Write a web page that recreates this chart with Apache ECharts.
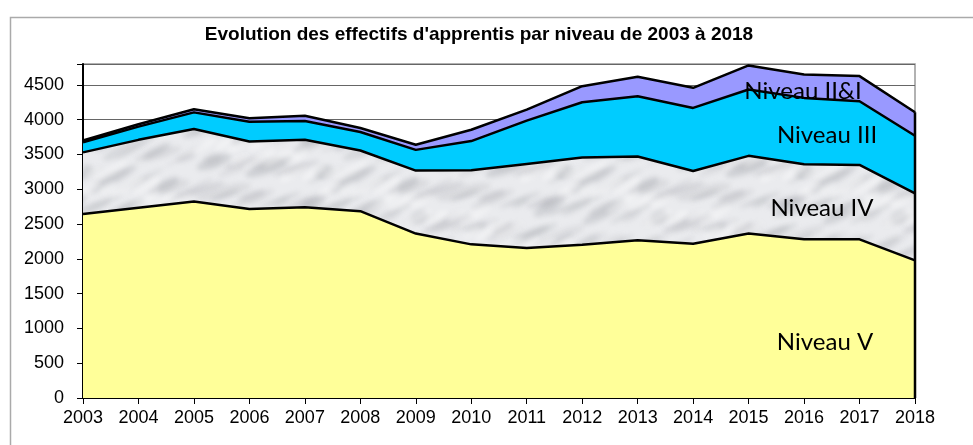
<!DOCTYPE html>
<html>
<head>
<meta charset="utf-8">
<script src="https://cdn.jsdelivr.net/npm/echarts@6/dist/echarts.min.js"></script>
<style>html,body{margin:0;padding:0;background:#fff;}#c{width:973px;height:445px;}</style>
</head>
<body>
<div id="c"></div>
<script>
const years = ['2003','2004','2005','2006','2007','2008','2009','2010','2011','2012','2013','2014','2015','2016','2017','2018'];
const niveauV   = [2645,2735,2825,2715,2740,2685,2363,2208,2155,2204,2266,2218,2363,2280,2280,1977];
const niveauIV  = [885,975,1040,970,970,872,905,1065,1209,1251,1204,1045,1117,1080,1070,963];
const niveauIII = [145,190,240,285,270,265,298,419,622,795,867,906,953,953,915,829];
const niveauII  = [25,35,45,50,75,58,73,163,159,231,280,289,347,337,361,337];
const seriesNames = ['Niveau V','Niveau IV','Niveau III','Niveau II&I'];
const yTicks = [0,500,1000,1500,2000,2500,3000,3500,4000,4500];

function marble(){
  const W = 240, H = 160;
  const big = document.createElement('canvas');
  big.width = W * 3; big.height = H * 3;
  const g = big.getContext('2d');
  g.fillStyle = '#eaebee';
  g.fillRect(0, 0, W * 3, H * 3);
  g.filter = 'blur(2.5px)';
  function blob(x, y, w, h, rot, col){
    for (let ox = 0; ox < 3; ox++) for (let oy = 0; oy < 3; oy++) {
      g.save();
      g.translate(x + ox * W, y + oy * H);
      g.rotate(rot);
      g.fillStyle = col;
      g.beginPath();
      g.ellipse(0, 0, w, h, 0, 0, Math.PI * 2);
      g.fill();
      g.restore();
    }
  }
  for (let i = 0; i < 90; i++) {
    const a = 0.10 + ((i * 11) % 7) * 0.03;
    blob((i * 67) % W, (i * 41) % H, 8 + (i * 13) % 22, 2 + (i * 7) % 5,
         -0.55 + ((i * 5) % 7) * 0.05, 'rgba(140,142,150,' + a.toFixed(2) + ')');
  }
  for (let i = 0; i < 40; i++) {
    blob((i * 89) % W, (i * 29) % H, 10 + (i * 3) % 12, 4, -0.5, 'rgba(255,255,255,0.35)');
  }
  const c = document.createElement('canvas');
  c.width = W; c.height = H;
  c.getContext('2d').drawImage(big, W, H, W, H, 0, 0, W, H);
  return c;
}

const colors = ['#FFFF99', {image: marble(), repeat: 'repeat'}, '#00CCFF', '#9999FF'];
const dataSets = [niveauV, niveauIV, niveauIII, niveauII];
const lastIdx = years.length - 1;
const lastTotal = dataSets.reduce((s, d) => s + d[lastIdx], 0);

const series = dataSets.map((d, i) => ({
  name: seriesNames[i],
  type: 'line',
  stack: 'total',
  data: d,
  symbol: 'none',
  lineStyle: {color: '#000', width: 2.5},
  areaStyle: {color: colors[i], opacity: 1},
  z: 8 - i,
  silent: true
}));
series.push({
  type: 'line',
  data: [[years[lastIdx], 0], [years[lastIdx], lastTotal]],
  symbol: 'none',
  lineStyle: {color: '#000', width: 2.5},
  z: 10,
  silent: true
});

const labelFont = 'Lato, "Open Sans", sans-serif';
const chart = echarts.init(document.getElementById('c'), null, {renderer: 'canvas'});
chart.setOption({
  animation: false,
  backgroundColor: '#fff',
  title: {
    text: "Evolution des effectifs d'apprentis par niveau de 2003 à 2018",
    left: 474, top: 20, textAlign: 'center',
    textStyle: {fontFamily: '"Liberation Sans", Arial, sans-serif', fontWeight: 'bold', fontSize: 19, color: '#000'}
  },
  grid: {left: 83, right: 58, top: 64, bottom: 47, show: true, borderColor: '#999', borderWidth: 1.5, backgroundColor: 'transparent'},
  xAxis: {
    type: 'category', data: years, boundaryGap: false,
    axisLine: {lineStyle: {color: '#000', width: 2}},
    axisTick: {show: true, alignWithLabel: true, length: 6, lineStyle: {color: '#000'}},
    axisLabel: {color: '#000', fontSize: 18, fontFamily: '"Liberation Sans", Arial, sans-serif', margin: 11, interval: 0},
    splitLine: {show: false}
  },
  yAxis: {
    type: 'value', min: 0, max: 4800, interval: 500,
    axisLine: {show: true, lineStyle: {color: '#000', width: 2}},
    axisTick: {show: true, length: 6, lineStyle: {color: '#000'}},
    axisLabel: {color: '#000', fontSize: 18, fontFamily: '"Liberation Sans", Arial, sans-serif', margin: 19,
      formatter: v => yTicks.includes(v) ? String(v) : ''},
    splitLine: {show: true, lineStyle: {color: '#666', width: 1}}
  },
  graphic: [
    {type: 'rect', shape: {x: 10.5, y: 17.5, width: 1000, height: 500}, style: {fill: 'none', stroke: '#aaa', lineWidth: 1.5}, z: -10, silent: true},
    {type: 'text', x: 803, y: 91, style: {text: 'Niveau II&I', fontFamily: labelFont, fontSize: 24, fill: '#000', textAlign: 'center', textVerticalAlign: 'middle'}, z: 100},
    {type: 'text', x: 827, y: 135, style: {text: 'Niveau III', fontFamily: labelFont, fontSize: 24, fill: '#000', textAlign: 'center', textVerticalAlign: 'middle'}, z: 100},
    {type: 'text', x: 822, y: 208, style: {text: 'Niveau IV', fontFamily: labelFont, fontSize: 24, fill: '#000', textAlign: 'center', textVerticalAlign: 'middle'}, z: 100},
    {type: 'text', x: 825, y: 342, style: {text: 'Niveau V', fontFamily: labelFont, fontSize: 24, fill: '#000', textAlign: 'center', textVerticalAlign: 'middle'}, z: 100}
  ],
  series: series
});
</script>
</body>
</html>
